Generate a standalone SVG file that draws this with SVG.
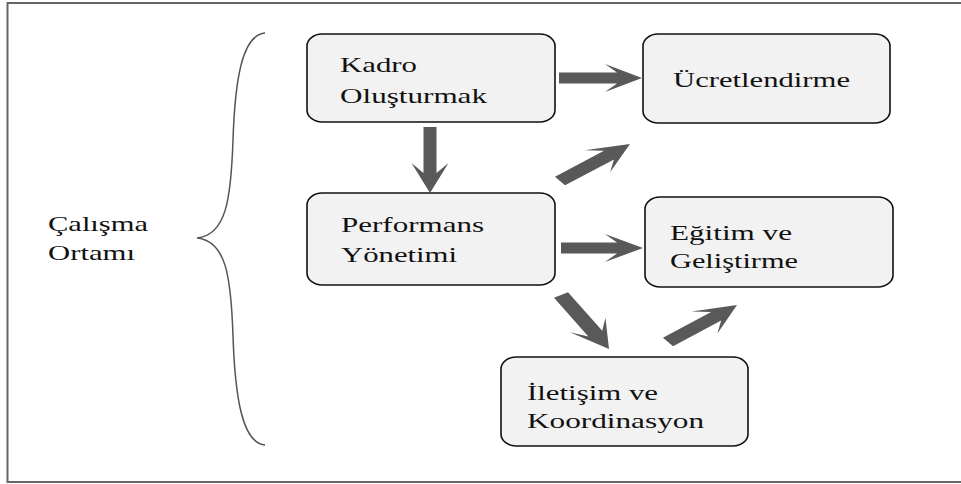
<svg xmlns="http://www.w3.org/2000/svg" width="961" height="484" viewBox="0 0 961 484">
  <style>
    .frame { fill: none; stroke: #666666; stroke-width: 2; }
    .brace { fill: none; stroke: #555555; stroke-width: 1.5; }
    .box { fill: #f2f2f2; stroke: #111111; stroke-width: 1.6; }
    .label { font-family: "Liberation Serif", "Times New Roman", serif; font-size: 22px; fill: #111111; }
    .arrow { fill: #595959; stroke: none; }
  </style>

  <rect width="961" height="484" fill="#ffffff"/>
  <rect class="frame" x="7.5" y="3" width="962" height="479"/>

  <!-- Work environment label with its brace -->
  <g id="calisma-ortami">
    <text class="label" x="48" y="231" textLength="100" lengthAdjust="spacingAndGlyphs">Çalışma</text>
    <text class="label" x="48" y="260" textLength="87" lengthAdjust="spacingAndGlyphs">Ortamı</text>
    <path class="brace" d="M265,33 C242,35 235,80 233,140 C231,200 226,235 197,238 C226,241 231,276 233,336 C235,396 242,443 265,445"/>
  </g>

  <g id="kadro">
    <rect class="box" x="307" y="34" width="248" height="88" rx="15" ry="12"/>
    <text class="label" x="340" y="72" textLength="77" lengthAdjust="spacingAndGlyphs">Kadro</text>
    <text class="label" x="340" y="103" textLength="147" lengthAdjust="spacingAndGlyphs">Oluşturmak</text>
  </g>

  <g id="performans">
    <rect class="box" x="307" y="193" width="248" height="92" rx="15" ry="12"/>
    <text class="label" x="341" y="232" textLength="143" lengthAdjust="spacingAndGlyphs">Performans</text>
    <text class="label" x="341" y="262" textLength="116" lengthAdjust="spacingAndGlyphs">Yönetimi</text>
  </g>

  <g id="ucretlendirme">
    <rect class="box" x="643" y="34" width="247" height="89" rx="15" ry="12"/>
    <text class="label" x="673" y="87" textLength="177" lengthAdjust="spacingAndGlyphs">Ücretlendirme</text>
  </g>

  <g id="egitim">
    <rect class="box" x="645" y="197" width="248" height="90" rx="15" ry="12"/>
    <text class="label" x="670" y="240" textLength="122" lengthAdjust="spacingAndGlyphs">Eğitim  ve</text>
    <text class="label" x="670" y="268" textLength="128" lengthAdjust="spacingAndGlyphs">Geliştirme</text>
  </g>

  <g id="iletisim">
    <rect class="box" x="501" y="357" width="247" height="89" rx="15" ry="12"/>
    <text class="label" x="527" y="400" textLength="131" lengthAdjust="spacingAndGlyphs">İletişim  ve</text>
    <text class="label" x="527" y="428" textLength="177" lengthAdjust="spacingAndGlyphs">Koordinasyon</text>
  </g>

  <!-- Block arrows between the boxes -->
  <g id="connectors">
    <polygon class="arrow" points="559,72.5 617,72.5 605,64 642,78 605,92 617,83.5 559,83.5"/>
    <polygon class="arrow" points="561,242.5 617,242.5 605,234 643,248 605,262 617,253.5 561,253.5"/>
    <polygon class="arrow" points="423.5,127 436.5,127 436.5,173 448.5,163 430,193 411.5,163 423.5,173"/>
    <polygon class="arrow" transform="translate(560,181) scale(1.48,1) rotate(-38)" points="0,-5.5 42,-5.5 32,-14 60,0 32,14 42,5.5 0,5.5"/>
    <polygon class="arrow" transform="translate(561,295) scale(1.48,1) rotate(59)" points="0,-5.5 45,-5.5 35,-14 63,0 35,14 45,5.5 0,5.5"/>
    <polygon class="arrow" transform="translate(668,342) scale(1.48,1) rotate(-38.4)" points="0,-5.5 41.5,-5.5 31.5,-14 59.5,0 31.5,14 41.5,5.5 0,5.5"/>
  </g>
</svg>
